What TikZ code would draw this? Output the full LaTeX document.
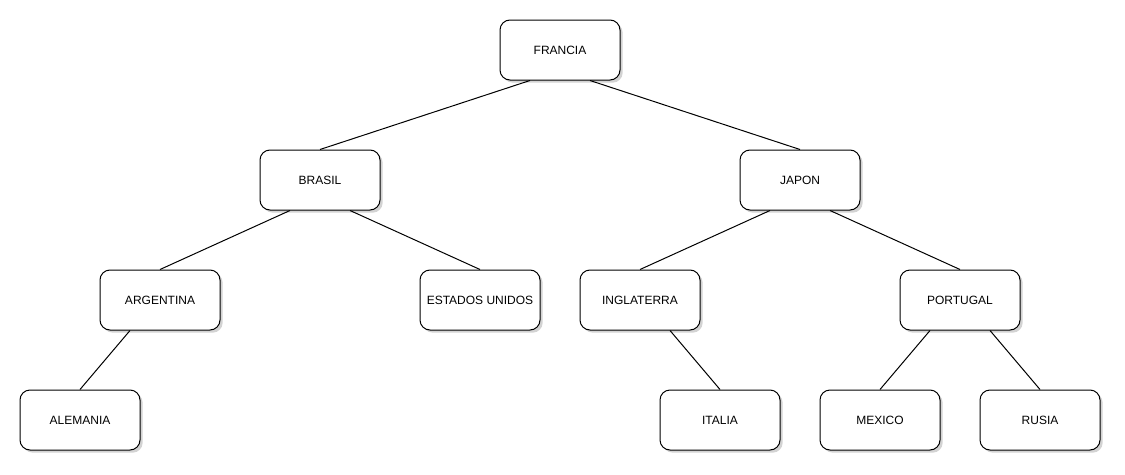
\documentclass[tikz,border=0pt]{standalone}
\usepackage{fontspec}
\setmainfont{Liberation Sans}
\usetikzlibrary{shadows}
\begin{document}
\begin{tikzpicture}[x=0.75pt,y=-0.75pt,
  box/.style={draw=black,fill=white,rounded corners=7.5pt,minimum width=90pt,minimum height=45pt,
    inner sep=0pt,font=\fontsize{9pt}{11pt}\selectfont,line width=0.75pt,
    drop shadow={shadow xshift=2pt,shadow yshift=-2pt,opacity=0.35,fill=gray}},
  edge/.style={draw=black,line width=0.75pt}]
\useasboundingbox (0,0) rectangle (1125,475);
\node[box] (fra) at (560,50) {FRANCIA};
\node[box] (bra) at (320,180) {BRASIL};
\node[box] (jap) at (800,180) {JAPON};
\node[box] (arg) at (160,300) {ARGENTINA};
\node[box] (usa) at (480,300) {ESTADOS UNIDOS};
\node[box] (ing) at (640,300) {INGLATERRA};
\node[box] (por) at (960,300) {PORTUGAL};
\node[box] (ale) at (80,420) {ALEMANIA};
\node[box] (ita) at (720,420) {ITALIA};
\node[box] (mex) at (880,420) {MEXICO};
\node[box] (rus) at (1040,420) {RUSIA};
\draw[edge] ([xshift=-22.5pt]fra.south) -- (bra.north);
\draw[edge] ([xshift=22.5pt]fra.south) -- (jap.north);
\draw[edge] ([xshift=-22.5pt]bra.south) -- (arg.north);
\draw[edge] ([xshift=22.5pt]bra.south) -- (usa.north);
\draw[edge] ([xshift=-22.5pt]jap.south) -- (ing.north);
\draw[edge] ([xshift=22.5pt]jap.south) -- (por.north);
\draw[edge] ([xshift=-22.5pt]arg.south) -- (ale.north);
\draw[edge] ([xshift=22.5pt]ing.south) -- (ita.north);
\draw[edge] ([xshift=-22.5pt]por.south) -- (mex.north);
\draw[edge] ([xshift=22.5pt]por.south) -- (rus.north);
\end{tikzpicture}
\end{document}
